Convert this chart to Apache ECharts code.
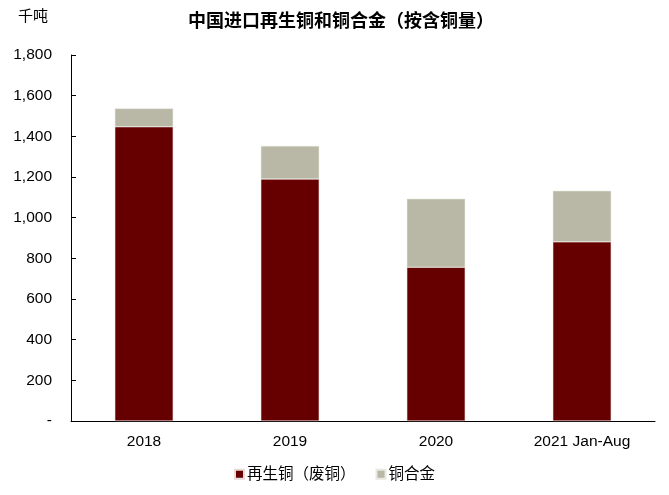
<!DOCTYPE html>
<html><head><meta charset="utf-8">
<script src="https://cdn.jsdelivr.net/npm/echarts@6/dist/echarts.min.js"></script>
<style>html,body{margin:0;padding:0;background:#fff}#c{width:669px;height:495px}</style>
</head><body><div id="c"></div>
<script>
var categories = ['2018', '2019', '2020', '2021 Jan-Aug'];
var scrapCopper = [1447, 1190, 756, 881];
var copperAlloy = [90, 163, 337, 251];
var seriesNames = ['再生铜（废铜）', '铜合金'];
var yTicks = { min: 0, max: 1800, interval: 200 };

var chart = echarts.init(document.getElementById('c'));
var font = 'Liberation Sans, Arial, Noto Sans CJK SC, sans-serif';
chart.setOption({
  animation: false,
  backgroundColor: '#fff',
  title: {
    text: '中国进口再生铜和铜合金（按含铜量）',
    left: 336, top: 8, textAlign: 'center',
    textStyle: { fontSize: 18, fontWeight: 'bold', color: '#000', fontFamily: font }
  },
  graphic: [{
    type: 'text', left: 18, top: 9,
    style: { text: '千吨', fontSize: 15, fill: '#000', fontFamily: font }
  }],
  legend: {
    bottom: 8, left: 'center', itemWidth: 9, itemHeight: 9, itemGap: 20,
    icon: 'rect',
    textStyle: { fontSize: 15.5, color: '#000', fontFamily: font, padding: [0, 0, 0, -2] },
    data: seriesNames
  },
  grid: { left: 71, right: 14, top: 55, bottom: 74, containLabel: false },
  xAxis: {
    type: 'category', data: categories,
    axisLine: { lineStyle: { color: '#000', width: 1 } },
    axisTick: { show: false },
    axisLabel: { fontSize: 15.5, color: '#000', fontFamily: font, margin: 13 }
  },
  yAxis: {
    type: 'value', min: yTicks.min, max: yTicks.max, interval: yTicks.interval,
    axisLine: { show: true, lineStyle: { color: '#000', width: 1 } },
    axisTick: { show: true, inside: true, length: 5, lineStyle: { color: '#000' } },
    splitLine: { show: false },
    axisLabel: {
      fontSize: 15.5, color: '#000', fontFamily: font, margin: 19,
      formatter: function (v) { return v === 0 ? '-' : v.toLocaleString('en-US'); }
    }
  },
  series: [
    { name: seriesNames[0], type: 'bar', stack: 'a', data: scrapCopper, barWidth: '40%',
      itemStyle: { color: '#660000', borderColor: '#e8dcd8', borderWidth: 0.5 } },
    { name: seriesNames[1], type: 'bar', stack: 'a', data: copperAlloy, barWidth: '40%',
      itemStyle: { color: '#B9B8A6', borderColor: '#e8e8e0', borderWidth: 0.5 } }
  ]
});
</script></body></html>
